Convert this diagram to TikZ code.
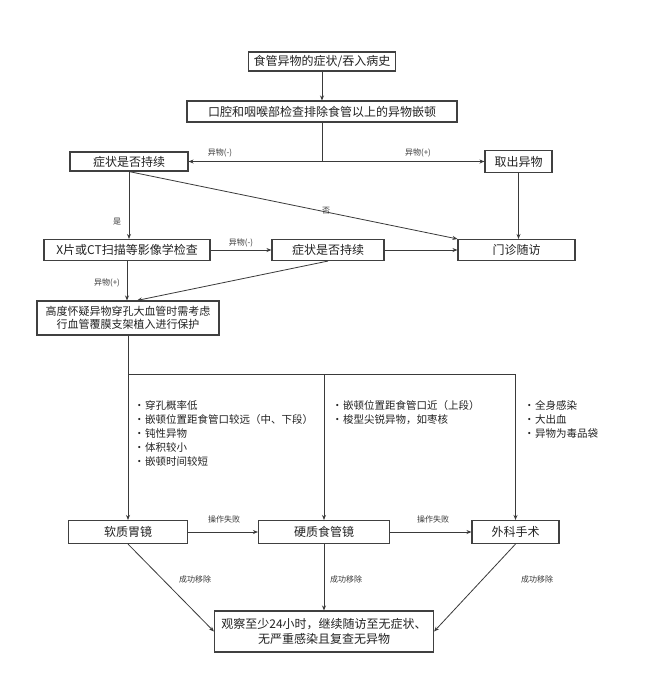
\documentclass[tikz,border=0pt]{standalone}
\usepackage{fontspec}
\newfontfamily\cjk{Noto Sans CJK SC}
\usetikzlibrary{arrows.meta,calc}
\definecolor{ink}{HTML}{222222}
\definecolor{edge}{HTML}{3A3A3A}
\definecolor{frame}{HTML}{404040}
\tikzset{
  stepbox/.style={
    draw=frame,
    line width=1.1pt,
    fill=white,
    font=\cjk\fontsize{12}{15}\selectfont,
    text=ink,
    inner sep=2pt,
    align=center
  },
  flow/.style={
    draw=edge,
    line width=0.8pt,
    -{Stealth[length=5pt,width=4pt]}
  },
  link/.style={
    draw=edge,
    line width=0.8pt
  },
  tag/.style={
    font=\cjk\fontsize{8}{9}\selectfont,
    text=edge,
    inner sep=1pt
  },
  crit/.style={
    font=\cjk\fontsize{10.5}{14}\selectfont,
    text=ink,
    align=left,
    inner sep=0pt,
    anchor=north west
  }
}
\newcommand{\blt}{\makebox[11pt][l]{•}}

\begin{document}
\begin{tikzpicture}[x=1pt,y=-1pt]

% Background
\fill[white] (0,0) rectangle (647,681);
\useasboundingbox (0,0) rectangle (647,681);

% ---------- Boxes ----------
\node[stepbox, minimum width=147pt, minimum height=19pt] (hist) at (322,61.5) {食管异物的症状/吞入病史};
\node[stepbox, minimum width=270pt, minimum height=21pt] (oral) at (322,111.5) {口腔和咽喉部检查排除食管以上的异物嵌顿};
\node[stepbox, minimum width=118pt, minimum height=19pt] (symA) at (129,161.5) {症状是否持续};
\node[stepbox, minimum width=67pt, minimum height=22pt] (take) at (518.5,161.5) {取出异物};
\node[stepbox, minimum width=166pt, minimum height=21pt] (xray) at (127,250) {X片或CT扫描等影像学检查};
\node[stepbox, minimum width=112pt, minimum height=21pt] (symB) at (328,250) {症状是否持续};
\node[stepbox, minimum width=117pt, minimum height=21pt] (clinic) at (516.5,250) {门诊随访};
\node[stepbox, minimum width=182pt, minimum height=34pt, font=\cjk\fontsize{11}{13.5}\selectfont] (stent) at (128,318) {高度怀疑异物穿孔大血管时需考虑\\行血管覆膜支架植入进行保护};
\node[stepbox, minimum width=119pt, minimum height=23pt] (soft) at (128,532) {软质胃镜};
\node[stepbox, minimum width=131pt, minimum height=23pt] (rigid) at (324,532) {硬质食管镜};
\node[stepbox, minimum width=87pt, minimum height=23pt] (surg) at (515.5,532) {外科手术};
\node[stepbox, minimum width=219pt, minimum height=41pt] (obs) at (324,631.5) {观察至少24小时，继续随访至无症状、\\无严重感染且复查无异物};

% ---------- Connectors ----------
\coordinate (split) at (oral.south |- symA);
\draw[flow] (hist) -- (oral);
\draw[link] (oral) -- (split);
\draw[flow] (split) -- (symA);
\draw[flow] (split) -- (take);
\draw[flow] (symA.south) -- (symA.south |- xray.north);
\draw[flow] (symA.south) -- (clinic.north west);
\draw[flow] (take) -- (take |- clinic.north);
\draw[flow] (xray) -- (symB);
\draw[flow] (symB) -- (clinic);
\draw[flow] (xray) -- (xray |- stent.north);
\draw[flow] (symB.south) -- ($(stent.north)+(9,0)$);

% branch to the three treatments
\coordinate (brL) at (128,374);
\coordinate (brR) at (surg.north |- brL);
\draw[link] (brL) -- (brR);
\draw[flow] (stent) -- (soft);
\draw[flow] (rigid.north |- brL) -- (rigid);
\draw[flow] (brR) -- (surg);
\draw[flow] (soft) -- (rigid);
\draw[flow] (rigid) -- (surg);
\draw[flow] (soft.south) -- (obs.west);
\draw[flow] (rigid) -- (obs);
\draw[flow] (surg.south) -- (obs.east);

% ---------- Labels ----------
\node[tag] (tNegA) at (220,153) {异物(-)};
\node[tag] (tPosA) at (418,153) {异物(+)};
\node[tag] (tYes) at (117,222) {是};
\node[tag] (tNo) at (326,211) {否};
\node[tag] (tNegB) at (241,243) {异物(-)};
\node[tag] (tPosB) at (107,283) {异物(+)};
\node[tag] (tFailA) at (224,519) {操作失败};
\node[tag] (tFailB) at (433,519) {操作失败};
\node[tag] (tOkA) at (195,579) {成功移除};
\node[tag] (tOkB) at (346,579) {成功移除};
\node[tag] (tOkC) at (537,579) {成功移除};

% ---------- Criteria ----------
\node[crit] (critA) at (134,400) {\blt 穿孔概率低\\\blt 嵌顿位置距食管口较远（中、下段）\\\blt 钝性异物\\\blt 体积较小\\\blt 嵌顿时间较短};
\node[crit] (critB) at (332,400) {\blt 嵌顿位置距食管口近（上段）\\\blt 梭型尖锐异物，如枣核};
\node[crit] (critC) at (524,400) {\blt 全身感染\\\blt 大出血\\\blt 异物为毒品袋};

\end{tikzpicture}
\end{document}
